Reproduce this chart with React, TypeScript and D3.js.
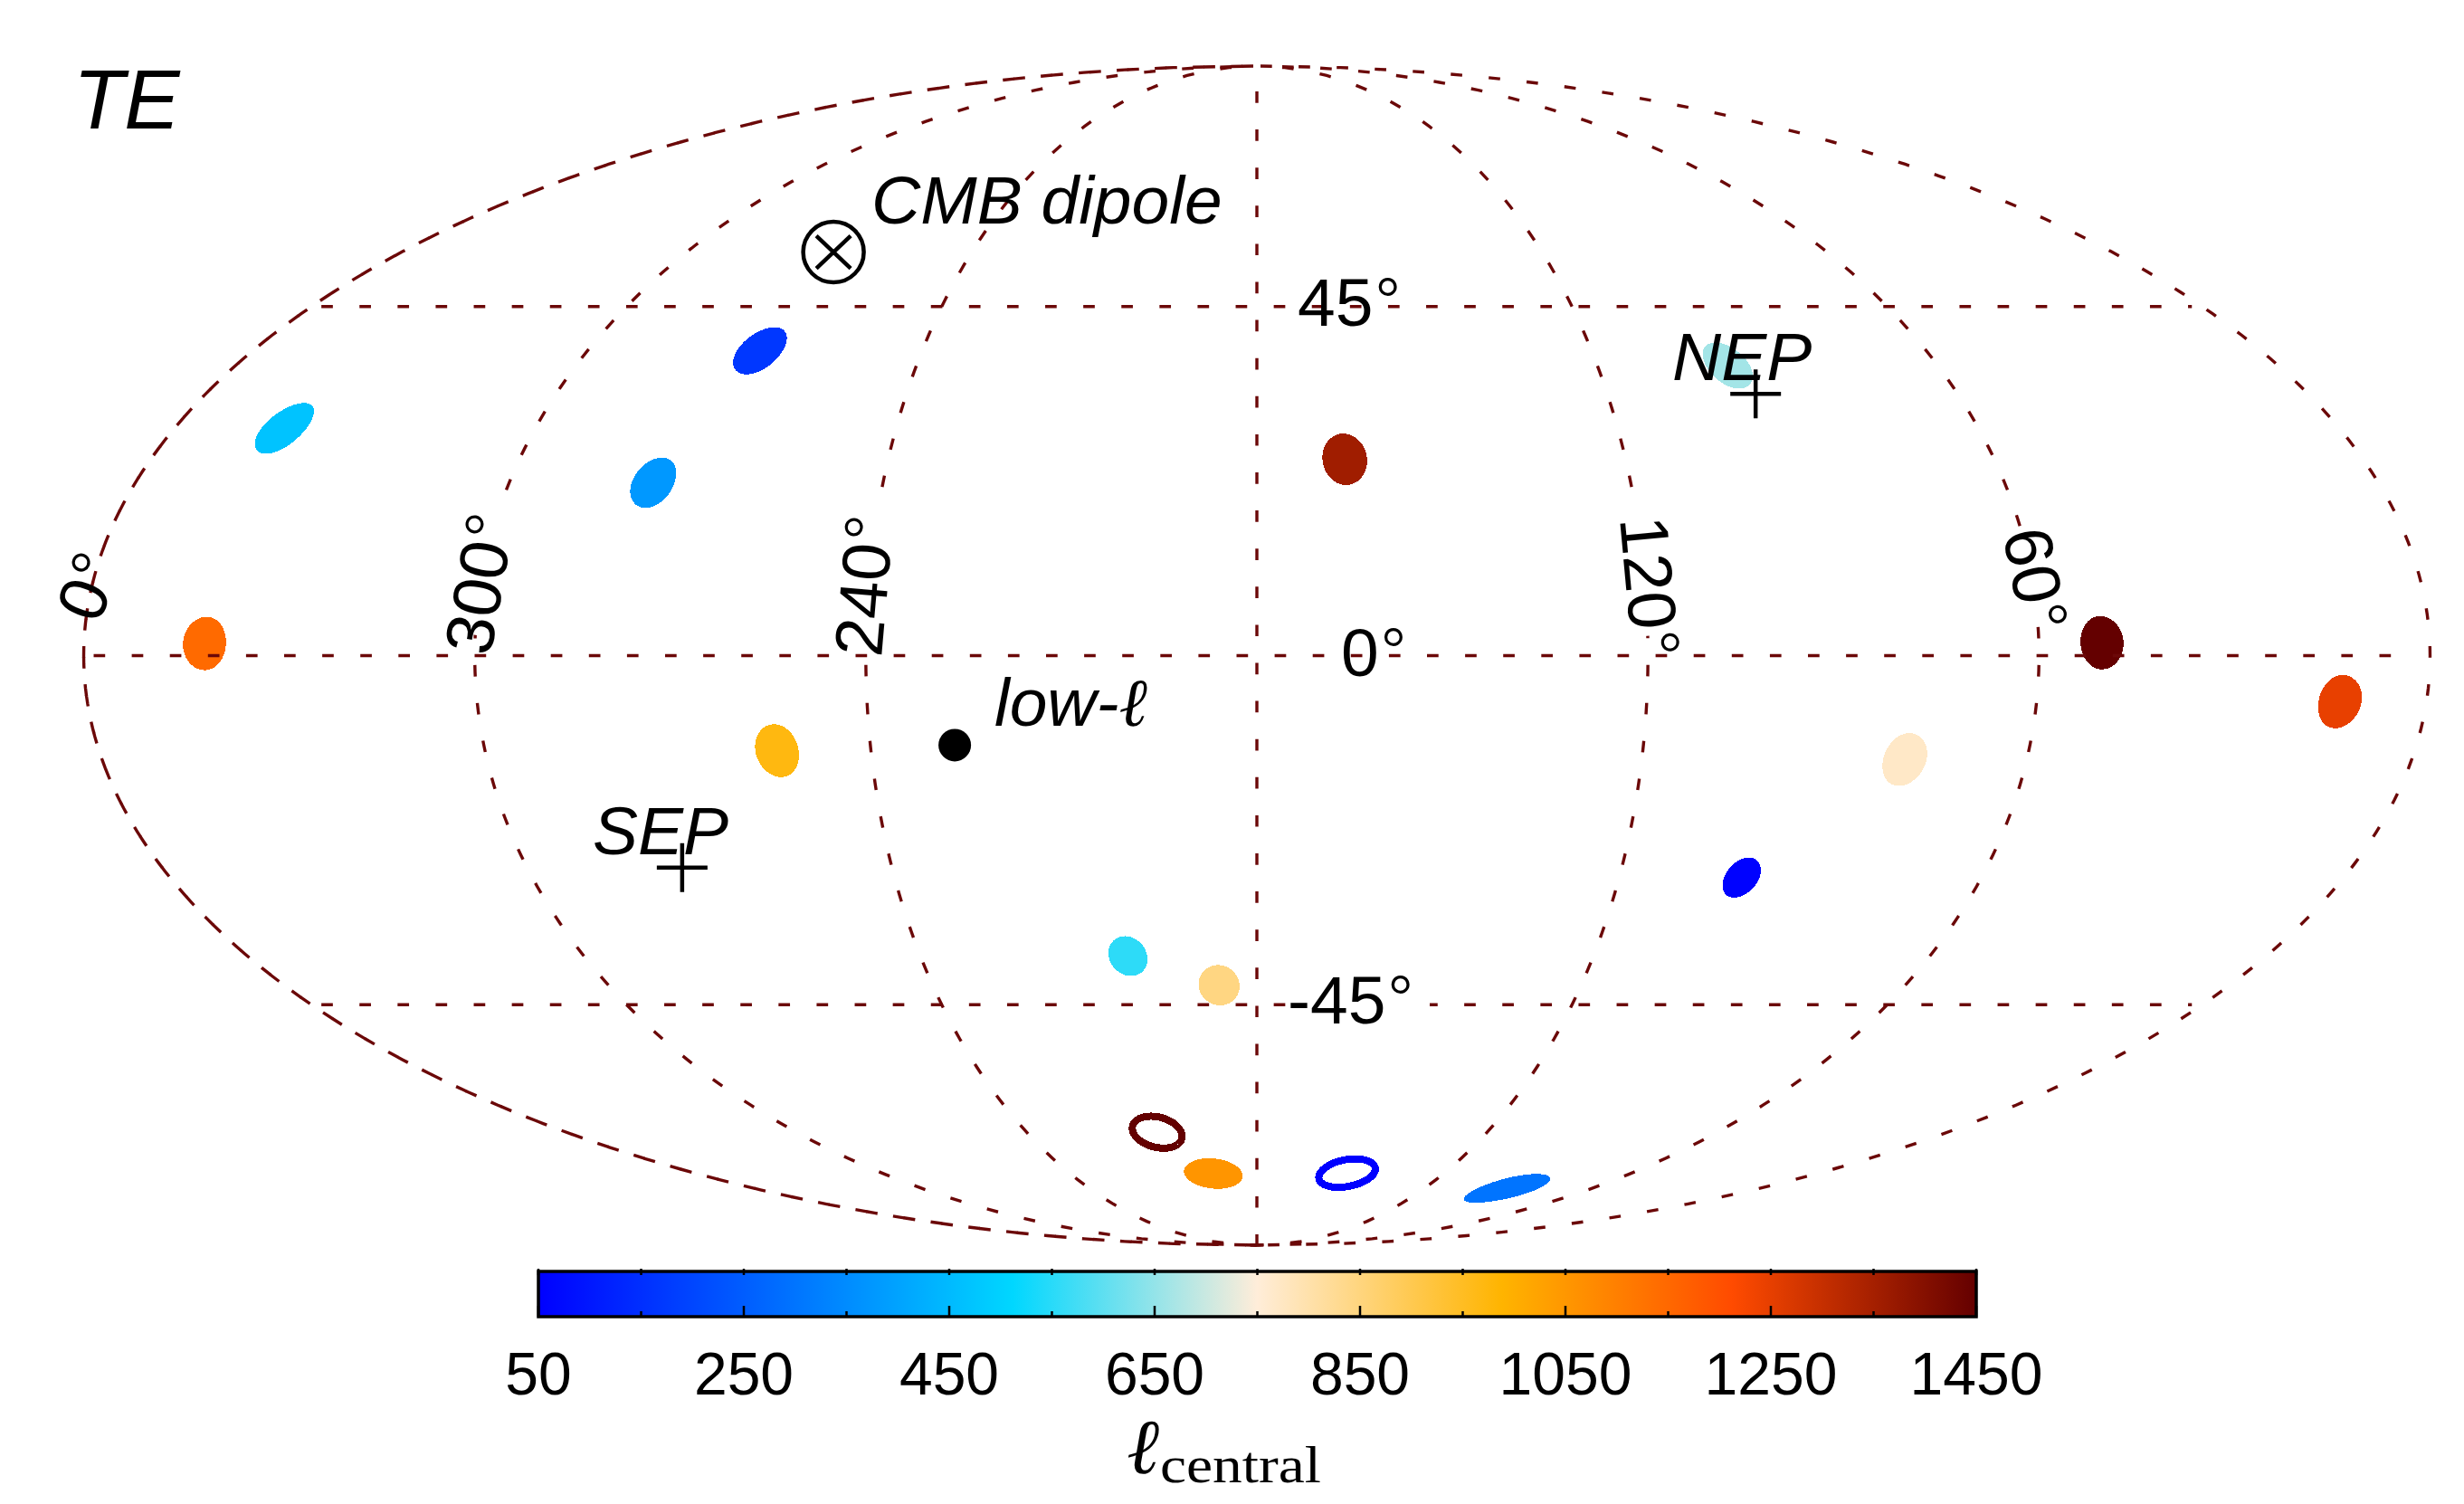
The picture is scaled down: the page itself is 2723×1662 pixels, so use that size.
import * as d3 from "d3";

// ── Data ──────────────────────────────────────────────────────
const SPOT_LON = [341.5, 341.8, 269.1, 276.9, 254.6, 203, 187, 194, 90, 99.7, 79, 165.7, 97, 50.3, 13.3];
const SPOT_LAT = [1.5, 28.6, 38.9, 21.6, -11.8, -38.3, -42.3, -71.9, -74.8, -27.9, -12.9, 24.6, 36.9, 1.6, -5.7];
const SPOT_ELL = [1146, 469, 168, 377, 970, 554, 845, 1054, 299, 55, 770, 1358, 664, 1450, 1247];
const SPOT_SIZE = [3.3, 3.3, 3.2, 3.2, 3.3, 2.7, 2.8, 2.9, 2.9, 2.6, 3.3, 3.3, 3.1, 3.3, 3.3];

// the two outlined spots near the south pole
const RING_LON = [206, 151.1];
const RING_LAT = [-64.5, -71.8];
const RING_ELL = [1450, 50];
const RING_SIZE = [2.7, 2.7];

const LOW_ELL = [226.9, -11.1];
const CMB_DIPOLE = [269.1, 52.9];
const SEP = [274.5, -26.6];
const NEP = [94.6, 33.1];

const MERIDIANS = [300, 240, 180, 120, 60];
const PARALLELS = [45, 0, -45];

const STOP_ELL = [50, 512, 750, 988, 1212, 1450];
const STOP_COLORS = ["#0000ff", "#00d7ff", "#ffedd9", "#ffb400", "#ff4b00", "#640000"];
const BAR_TICKS = [50, 150, 250, 350, 450, 550, 650, 750, 850, 950, 1050, 1150, 1250, 1350, 1450];
const BAR_LABELS = [50, 250, 450, 650, 850, 1050, 1250, 1450];

// ── Geometry ──────────────────────────────────────────────────
const W = 2723;
const H = 1662;
const CX = 1389;
const CY = 724.5;
const RX = 1296.5;
const RY = 651.5;
const GRID = "#6b0808";
const DASH = "12.7 29.4";
const SANS = "'Liberation Sans', Arial, sans-serif";
const SERIF = "'Liberation Serif', 'Times New Roman', serif";
const BAR = { x0: 595, x1: 2184, top: 1405, bottom: 1455 };

// Mollweide, returned directly in page pixels so scale stays at 1
function mollweideRaw(lambda: number, phi: number): [number, number] {
  const target = Math.PI * Math.sin(phi);
  let lo = -Math.PI / 2;
  let hi = Math.PI / 2;
  for (let i = 0; i < 40; i++) {
    const t = (lo + hi) / 2;
    if (2 * t + Math.sin(2 * t) < target) lo = t;
    else hi = t;
  }
  const theta = (lo + hi) / 2;
  return [(RX * lambda * Math.cos(theta)) / Math.PI, RY * Math.sin(theta)];
}

const projection = d3
  .geoProjection(mollweideRaw)
  .scale(1)
  .translate([CX, CY])
  .rotate([-180, 0])
  .reflectX(true)
  .precision(0.3);

const geoPath = d3.geoPath(projection);
const toLine = d3.line();

const ellColor = d3.scaleLinear<string>().domain(STOP_ELL).range(STOP_COLORS).interpolate(d3.interpolateRgb);
const barX = d3.scaleLinear().domain([50, 1450]).range([BAR.x0, BAR.x1]);

const project = (lon: number, lat: number) => projection([lon, lat]) as [number, number];
const meridian = (lon: number) =>
  toLine(d3.range(90, -90.01, -1).map((lat) => project(lon, lat))) as string;

// Rotated or boxed grid labels: anchor on the baseline, plus the white box behind some of them
interface GridLabel {
  text: string;
  x: number;
  y: number;
  rot: number;
  box?: [number, number];
}
const GRID_LABELS: GridLabel[] = [
  { text: "0", x: 109, y: 691, rot: -69 },
  { text: "300", x: 542, y: 726, rot: -80, box: [21, 177] },
  { text: "240", x: 974, y: 727, rot: -85, box: [13, 175] },
  { text: "120", x: 1790, y: 573, rot: 84.7, box: [-16, 132] },
  { text: "60", x: 2213, y: 589, rot: 79, box: [3, 99] },
  { text: "45", x: 1434, y: 360, rot: 0 },
  { text: "0", x: 1482, y: 747, rot: 0 },
  { text: "-45", x: 1423, y: 1131, rot: 0, box: [7, 157] },
];

function Cross({ at }: { at: number[] }) {
  const [x, y] = project(at[0], at[1]);
  return (
    <g stroke="#000" strokeWidth={4.5}>
      <line x1={x - 28} x2={x + 28} y1={y} y2={y} />
      <line x1={x} x2={x} y1={y - 27} y2={y + 27} />
    </g>
  );
}

export default function App() {
  const [dipoleX, dipoleY] = project(CMB_DIPOLE[0], CMB_DIPOLE[1]);
  const [lowX, lowY] = project(LOW_ELL[0], LOW_ELL[1]);

  return (
    <svg
      width={W}
      height={H}
      viewBox={`0 0 ${W} ${H}`}
      style={{ position: "absolute", left: 0, top: 0, display: "block", background: "#fff" }}
    >
      <defs>
        <linearGradient id="bar-gradient" x1="0" x2="1" y1="0" y2="0">
          {STOP_ELL.map((ell, i) => (
            <stop key={ell} offset={(ell - 50) / 1400} stopColor={STOP_COLORS[i]} />
          ))}
        </linearGradient>
      </defs>

      {/* Spots */}
      {SPOT_LON.map((lon, i) => (
        <path
          key={`spot-${i}`}
          d={geoPath(d3.geoCircle().center([lon, SPOT_LAT[i]]).radius(SPOT_SIZE[i])()) as string}
          fill={ellColor(SPOT_ELL[i])}
          shapeRendering="crispEdges"
        />
      ))}
      {RING_LON.map((lon, i) => (
        <path
          key={`ring-${i}`}
          d={geoPath(d3.geoCircle().center([lon, RING_LAT[i]]).radius(RING_SIZE[i])()) as string}
          fill="none"
          stroke={ellColor(RING_ELL[i])}
          strokeWidth={8}
          shapeRendering="crispEdges"
        />
      ))}

      {/* Grid */}
      <g fill="none" stroke={GRID} strokeWidth={3.4} strokeDasharray={DASH}>
        {/* the left edge is drawn twice, out of phase, so its dashes run longer */}
        <path d={meridian(359.999)} strokeDashoffset={-4} />
        <path d={meridian(359.999)} strokeDashoffset={-16} />
        <path d={meridian(0.001)} strokeDashoffset={-4} />
        {MERIDIANS.map((lon) => (
          <path key={`m-${lon}`} d={meridian(lon)} strokeDashoffset={-28} />
        ))}
        {PARALLELS.map((lat) => (
          <path
            key={`p-${lat}`}
            d={toLine(d3.range(359.999, 0, -2).map((lon) => project(lon, lat))) as string}
            strokeDashoffset={-11}
          />
        ))}
      </g>

      {/* Grid labels */}
      {GRID_LABELS.map((g) => (
        <g key={`${g.text}-${g.x}`} transform={`translate(${g.x},${g.y}) rotate(${g.rot})`}>
          {g.box && <rect x={g.box[0]} y={-58} width={g.box[1] - g.box[0]} height={64} fill="#fff" />}
          <text fontFamily={SANS} fontSize={75} fill="#000">
            {g.text}
            <tspan fontFamily={SERIF} fontSize={66} dx={3} dy={-9}>°</tspan>
          </text>
        </g>
      ))}

      {/* Markers */}
      <circle cx={lowX} cy={lowY} r={18} fill="#000" />
      <Cross at={SEP} />
      <Cross at={NEP} />
      <g stroke="#000" strokeWidth={4.5} fill="none">
        <circle cx={dipoleX} cy={dipoleY} r={33.5} />
        <line x1={dipoleX - 19} x2={dipoleX + 19} y1={dipoleY - 18} y2={dipoleY + 18} />
        <line x1={dipoleX - 19} x2={dipoleX + 19} y1={dipoleY + 18} y2={dipoleY - 18} />
      </g>

      {/* Annotations */}
      <g fontFamily={SANS} fontStyle="italic" fill="#000" fontSize={75}>
        <text x={81} y={142} fontSize={92}>TE</text>
        <text x={963} y={247}>CMB dipole</text>
        <text x={1099} y={802}>
          low-<tspan fontFamily={SERIF}>ℓ</tspan>
        </text>
        <text x={655} y={944}>SEP</text>
        <text x={1848} y={420}>NEP</text>
      </g>

      {/* Colour bar */}
      <rect x={BAR.x0} y={BAR.top} width={BAR.x1 - BAR.x0} height={BAR.bottom - BAR.top} fill="url(#bar-gradient)" />
      <g stroke="#000" strokeWidth={2.5}>
        {BAR_TICKS.map((t) => {
          const major = BAR_LABELS.includes(t);
          return (
            <g key={`tick-${t}`}>
              <line x1={barX(t)} x2={barX(t)} y1={BAR.top - 3} y2={BAR.top + 4} />
              <line x1={barX(t)} x2={barX(t)} y1={BAR.bottom} y2={BAR.bottom - (major ? 12 : 6)} />
            </g>
          );
        })}
      </g>
      <rect
        x={BAR.x0}
        y={BAR.top}
        width={BAR.x1 - BAR.x0}
        height={BAR.bottom - BAR.top}
        fill="none"
        stroke="#000"
        strokeWidth={3.5}
      />
      <g fontFamily={SANS} fontSize={66} fill="#000" textAnchor="middle">
        {BAR_LABELS.map((t) => (
          <text key={`label-${t}`} x={barX(t)} y={1541}>{t}</text>
        ))}
      </g>
      <g fontFamily={SERIF} fill="#000">
        <text x={1245} y={1628} fontSize={86} fontStyle="italic">ℓ</text>
        <text x={1282} y={1638} fontSize={58} textLength={178} lengthAdjust="spacingAndGlyphs">central</text>
      </g>
    </svg>
  );
}
